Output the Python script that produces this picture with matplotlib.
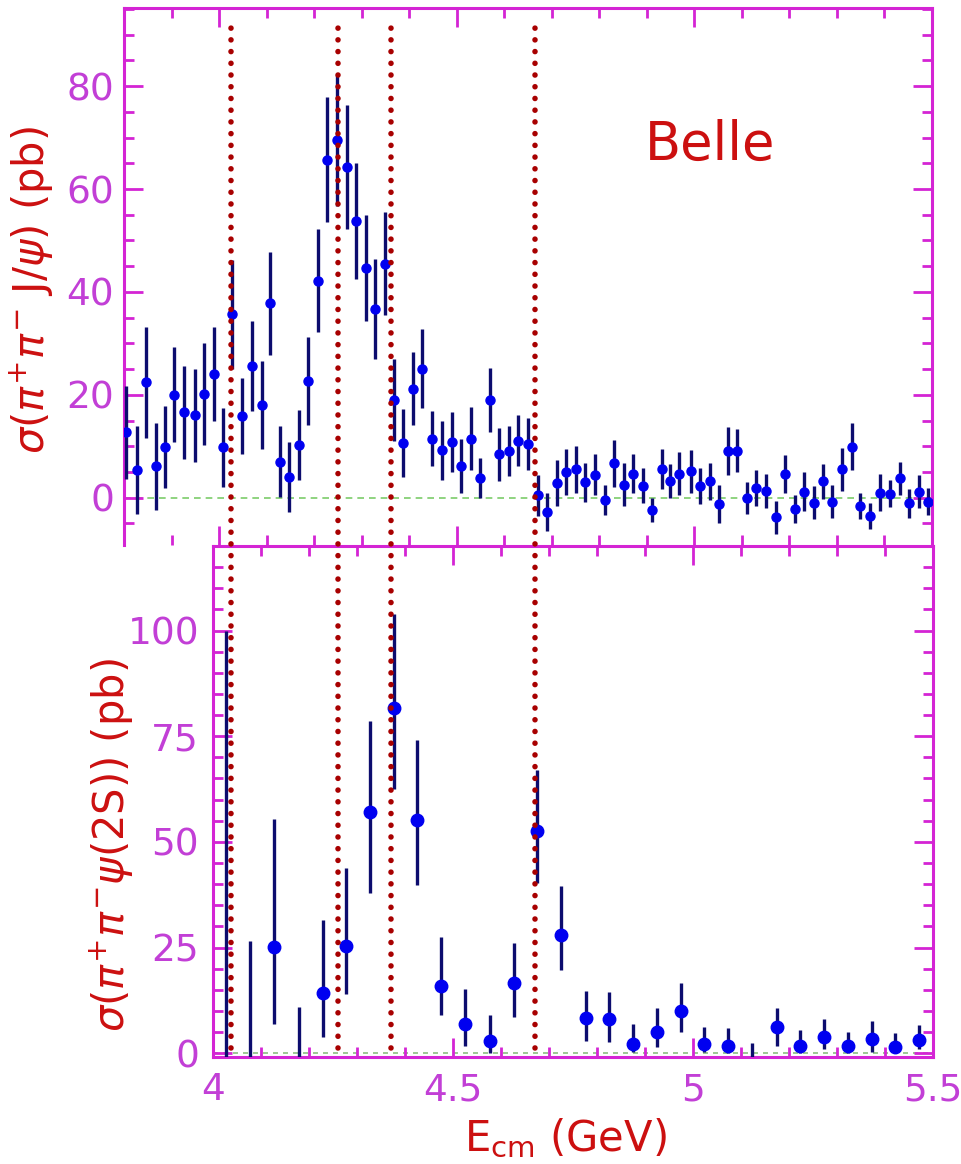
import matplotlib
matplotlib.use("Agg")
import matplotlib.pyplot as plt
import matplotlib.transforms as mtrans
from matplotlib.lines import Line2D
from matplotlib.ticker import MultipleLocator
import numpy as np

plt.rcParams['font.family'] = ['DejaVu Sans']
plt.rcParams['mathtext.fontset'] = 'dejavusans'

# top panel: sigma(pi+ pi- J/psi)
x_jpsi = [3.805, 3.827, 3.847, 3.867, 3.886, 3.906, 3.927, 3.949, 3.968, 3.989,
          4.008, 4.028, 4.048, 4.069, 4.090, 4.108, 4.129, 4.148, 4.168, 4.188,
          4.209, 4.228, 4.248, 4.269, 4.288, 4.309, 4.328, 4.349,
          4.368, 4.388, 4.408, 4.428, 4.449, 4.469, 4.490, 4.509, 4.530, 4.549,
          4.570, 4.588, 4.609, 4.630, 4.650, 4.671, 4.691, 4.710, 4.730, 4.751,
          4.770, 4.790, 4.811, 4.831, 4.851, 4.870, 4.891, 4.910, 4.931, 4.949, 4.968,
          4.992, 5.011, 5.032, 5.051, 5.071, 5.090, 5.111, 5.130, 5.151, 5.171,
          5.191, 5.211, 5.230, 5.251, 5.270, 5.290, 5.310, 5.331, 5.349, 5.370,
          5.391, 5.411, 5.432, 5.451, 5.472, 5.491]
y_jpsi = [12.7, 5.4, 22.4, 6.1, 9.9, 20.0, 16.6, 16.0, 20.1, 24.0,
          9.8, 35.7, 15.8, 25.6, 18.0, 37.8, 7.0, 4.1, 10.3, 22.7,
          42.2, 65.7, 69.5, 64.3, 53.8, 44.7, 36.7, 45.5,
          19.0, 10.7, 21.2, 25.1, 11.5, 9.2, 10.8, 6.2, 11.5, 3.8,
          19.0, 8.4, 9.1, 11.1, 10.4, 0.5, -2.7, 2.9, 5.0, 5.5,
          3.0, 4.5, -0.5, 6.7, 2.5, 4.7, 2.3, -2.4, 5.6, 3.2, 4.7,
          5.1, 2.3, 3.2, -1.3, 9.1, 9.1, -0.1, 1.8, 1.3, -3.8,
          4.6, -2.2, 1.2, -1.0, 3.2, -0.8, 5.5, 9.9, -1.6, -3.6,
          1.0, 0.8, 3.8, -1.1, 1.2, -0.8]
e_jpsi = [9.0, 8.5, 10.8, 8.5, 8.0, 9.2, 9.0, 9.1, 9.9, 9.1,
          7.7, 10.6, 7.4, 8.8, 8.5, 10.0, 6.9, 6.8, 6.8, 8.5,
          10.0, 12.2, 12.7, 12.1, 11.3, 10.3, 9.7, 10.0,
          7.9, 6.6, 7.1, 7.6, 5.4, 5.7, 5.9, 5.3, 6.1, 3.9,
          6.3, 5.1, 4.8, 4.9, 5.0, 4.0, 3.7, 4.5, 4.5, 4.6,
          3.8, 3.9, 2.9, 4.6, 4.2, 3.8, 3.4, 2.4, 3.9, 3.3, 4.2,
          4.1, 3.5, 3.6, 3.7, 4.6, 4.2, 3.1, 3.5, 3.4, 3.2,
          3.7, 2.8, 3.7, 3.2, 3.4, 3.2, 4.2, 4.6, 2.6, 2.5,
          3.6, 2.6, 3.2, 2.8, 3.3, 2.6]

# bottom panel: sigma(pi+ pi- psi(2S)); points with negative centre fall below the axis
x_psi2s = [4.027, 4.078, 4.128, 4.179, 4.229, 4.277, 4.328, 4.378, 4.426, 4.476,
           4.526, 4.577, 4.627, 4.675, 4.726, 4.777, 4.824, 4.875, 4.924, 4.975,
           5.022, 5.073, 5.122, 5.174, 5.222, 5.272, 5.323, 5.372, 5.421, 5.471]
y_psi2s = [-20.0, -20.0, 25.1, -20.0, 14.2, 25.3, 57.0, 81.7, 55.1, 16.0,
           6.9, 2.9, 16.6, 52.5, 27.9, 8.4, 8.1, 2.2, 4.9, 10.0,
           2.1, 1.8, -20.0, 6.3, 1.7, 3.9, 1.6, 3.3, 1.4, 3.1]
lo_psi2s = [-20.0, -20.0, 7.0, -20.0, 3.9, 14.1, 37.9, 62.5, 39.8, 9.0,
            1.7, 0.0, 8.6, 40.2, 19.6, 3.0, 2.6, 0.4, 1.4, 5.0,
            0.2, 0.0, -20.0, 1.8, 0.0, 0.9, 0.0, 0.4, 0.0, 0.9]
hi_psi2s = [100.0, 26.5, 55.3, 11.0, 31.5, 43.8, 78.7, 104.0, 74.0, 27.5,
            15.3, 9.1, 26.0, 66.9, 39.6, 14.8, 14.4, 7.0, 10.6, 16.7,
            6.3, 5.9, 2.4, 10.8, 5.5, 8.2, 5.1, 7.5, 4.7, 6.7]

# resonance positions marked by dotted lines
x_lines = [4.038, 4.26, 4.37, 4.67]

magenta = '#d424d4'
labcol = '#c23fd6'
red = '#cc1010'
bar_col = '#0c0c6e'
mk_col = '#0000f0'

W, H = 961, 1164
fig = plt.figure(figsize=(W / 100, H / 100), dpi=100)
ax1 = fig.add_axes([124 / W, 1 - 545 / H, 808 / W, 537 / H])
ax2 = fig.add_axes([213 / W, 1 - 1057 / H, 720 / W, 511 / H])

for ax in (ax1, ax2):
    for s in ax.spines.values():
        s.set_color(magenta)
        s.set_linewidth(2.2)
    ax.tick_params(which='both', direction='in', top=True, right=True,
                   color=magenta, width=2, labelcolor=labcol, labelsize=27)
    ax.tick_params(which='major', length=14)
    ax.tick_params(which='minor', length=7)
    ax.xaxis.set_major_locator(MultipleLocator(0.5))
    ax.xaxis.set_minor_locator(MultipleLocator(0.1))
    ax.yaxis.set_minor_locator(MultipleLocator(5))

# top panel
ax1.spines['bottom'].set_visible(False)
ax1.set_xlim(3.8, 5.5)
ax1.set_ylim(-9.2, 95.2)
ax1.yaxis.set_major_locator(MultipleLocator(20))
ax1.tick_params(axis='x', labelbottom=False)
ax1.tick_params(axis='y', pad=7)
ax1.axhline(0, color='#7ccc6a', lw=1.2, ls=(0, (4, 3)), zorder=1)
ax1.errorbar(x_jpsi, y_jpsi, yerr=e_jpsi, fmt='o', ms=6.5, color=mk_col,
             ecolor=bar_col, elinewidth=2.4, capsize=0, zorder=3)
ax1.text(0.725, 0.745, 'Belle', transform=ax1.transAxes, color=red,
         fontsize=38, ha='center', va='center')
ax1.set_ylabel(r'$\sigma(\pi^{+}\pi^{-}$ J/$\psi$) (pb)', color=red, fontsize=30)
ax1.yaxis.set_label_coords(-0.086, 0.475)

# bottom panel
ax2.set_xlim(4.0, 5.5)
ax2.set_ylim(-0.9, 120)
ax2.yaxis.set_major_locator(MultipleLocator(25))
ax2.set_xticks([4, 4.5, 5, 5.5], ['4', '4.5', '5', '5.5'])
ax2.tick_params(axis='x', pad=11)
ax2.tick_params(axis='y', pad=10)
ax2.axhline(0, color='#8cbf80', lw=1.2, ls=(0, (3, 3)), zorder=1)
yv = np.array(y_psi2s)
yerr = [yv - np.array(lo_psi2s), np.array(hi_psi2s) - yv]
ax2.errorbar(x_psi2s, y_psi2s, yerr=yerr, fmt='o', ms=9, color=mk_col,
             ecolor=bar_col, elinewidth=2.4, capsize=0, zorder=3)
ax2.set_ylabel(r'$\sigma(\pi^{+}\pi^{-}\psi$(2S)) (pb)', color=red, fontsize=30)
ax2.yaxis.set_label_coords(-0.108, 0.415)
ax2.set_xlabel(r'E$_{\mathrm{cm}}$ (GeV)', color=red, fontsize=30)
ax2.xaxis.set_label_coords(0.489, -0.118)

# dotted lines crossing both panels
tr = mtrans.blended_transform_factory(ax2.transData, fig.transFigure)
for xl in x_lines:
    fig.add_artist(Line2D([xl, xl], [1 - 1048 / H, 1 - 18 / H], transform=tr,
                          color='#a80000', lw=4.0, ls=(0, (0.01, 2.1)),
                          dash_capstyle='round', zorder=10))

fig.savefig('out.png', dpi=100)
